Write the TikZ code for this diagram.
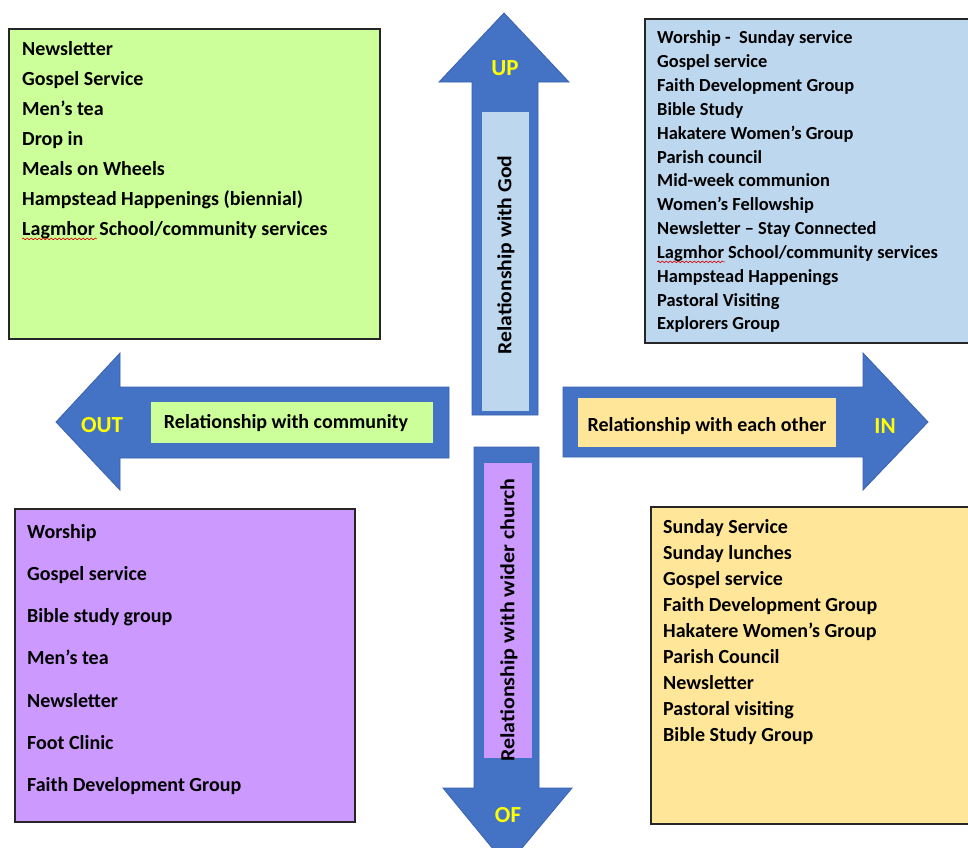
\documentclass[tikz,border=0pt]{standalone}
\usepackage{fontspec}
\setmainfont{Carlito}
\usetikzlibrary{decorations.pathmorphing}
\definecolor{arrowblue}{HTML}{4472C4}
\definecolor{arrowedge}{HTML}{3A62AE}
\definecolor{gfill}{HTML}{CCFF99}
\definecolor{bfill}{HTML}{BDD7EE}
\definecolor{pfill}{HTML}{CC99FF}
\definecolor{yfill}{HTML}{FFE699}
\definecolor{dirlabel}{HTML}{FFFF00}
\tikzset{
  bigarrow/.style={fill=arrowblue, draw=arrowedge, line width=0.8pt, line join=miter},
  listbox/.style={draw=black!85, line width=1.1pt},
  itemA/.style={anchor=base west, inner sep=0pt, font=\fontsize{20}{22}\selectfont\bfseries},
  itemB/.style={anchor=base west, inner sep=0pt, font=\fontsize{18.4}{20}\selectfont\bfseries},
  barlabel/.style={inner sep=0pt, font=\fontsize{20}{22}\selectfont\bfseries},
  dirtext/.style={inner sep=0pt, text=dirlabel, font=\fontsize{23}{25}\selectfont\bfseries},
  squig/.style={draw=red!85!black, line width=0.6pt, decorate, decoration={snake, amplitude=0.9pt, segment length=4pt}}
}
\begin{document}
\begin{tikzpicture}[x=1pt,y=-1pt]
\useasboundingbox (0,0) rectangle (968,847);
\clip (0,0) rectangle (968,847);
\fill[white] (0,0) rectangle (968,847);

% ---- list boxes ----
\draw[listbox, fill=gfill] (9,29) rectangle (380,339);
\draw[listbox, fill=bfill] (645,19) rectangle (980,343);
\draw[listbox, fill=pfill] (15,509) rectangle (355,822);
\draw[listbox, fill=yfill] (651,507) rectangle (980,824);

% ---- arrows ----
% UP
\draw[bigarrow] (504,13) -- (569,82) -- (538,82) -- (538,415) -- (472,415) -- (472,82) -- (439,82) -- cycle;
\fill[bfill] (482,112) rectangle (529,411);
\node[barlabel, rotate=90, xscale=1.08] (god) at (506,255) {Relationship with God};
\node[dirtext] (up) at (505,68) {UP};
% OUT
\draw[bigarrow] (56,422) -- (120,353) -- (120,387) -- (449,387) -- (449,458) -- (120,458) -- (120,490) -- cycle;
\fill[gfill] (151,402) rectangle (433,443);
\node[barlabel] (comm) at (286,423) {Relationship with community};
\node[dirtext] (out) at (102,425) {OUT};
% IN
\draw[bigarrow] (563,387) -- (863,387) -- (863,353) -- (928,422) -- (863,490) -- (863,457) -- (563,457) -- cycle;
\fill[yfill] (578,398) rectangle (836,447);
\node[barlabel] (each) at (707,426) {Relationship with each other};
\node[dirtext] (in) at (885,426) {IN};
% OF
\draw[bigarrow] (474,447) -- (539,447) -- (539,788) -- (572,788) -- (507,866) -- (443,788) -- (474,788) -- cycle;
\fill[pfill] (484,463) rectangle (532,758);
\node[barlabel, rotate=90, xscale=1.1] (wider) at (509,620) {Relationship with wider church};
\node[dirtext] (of) at (508,815) {OF};

% ---- green box items ----
\foreach \t [count=\i] in {Newsletter, Gospel Service, Men’s tea, Drop in, Meals on Wheels, Hampstead Happenings (biennial), Lagmhor School/community services}
  \node[itemA] (g\i) at (22,{49+(\i-1)*30+6.4}) {\t};
\draw[squig] ([yshift=-3.5pt]g7.base west) -- ++(75,0);

% ---- blue box items ----
\foreach \t [count=\i] in {Worship -\ \ Sunday service, Gospel service, Faith Development Group, Bible Study, Hakatere Women’s Group, Parish council, Mid-week communion, Women’s Fellowship, Newsletter – Stay Connected, Lagmhor School/community services, Hampstead Happenings, Pastoral Visiting, Explorers Group}
  \node[itemB] (b\i) at (657,{38+(\i-1)*23.83+5.9}) {\t};
\draw[squig] ([yshift=-3.5pt]b10.base west) -- ++(68,0);

% ---- purple box items ----
\foreach \t [count=\i] in {Worship, Gospel service, Bible study group, Men’s tea, Newsletter, Foot Clinic, Faith Development Group}
  \node[itemA] (p\i) at (27,{532+(\i-1)*42.17+6.4}) {\t};

% ---- yellow box items ----
\foreach \t [count=\i] in {Sunday Service, Sunday lunches, Gospel service, Faith Development Group, Hakatere Women’s Group, Parish Council, Newsletter, Pastoral visiting, Bible Study Group}
  \node[itemA] (y\i) at (663,{527+(\i-1)*26+6.4}) {\t};
\end{tikzpicture}
\end{document}
